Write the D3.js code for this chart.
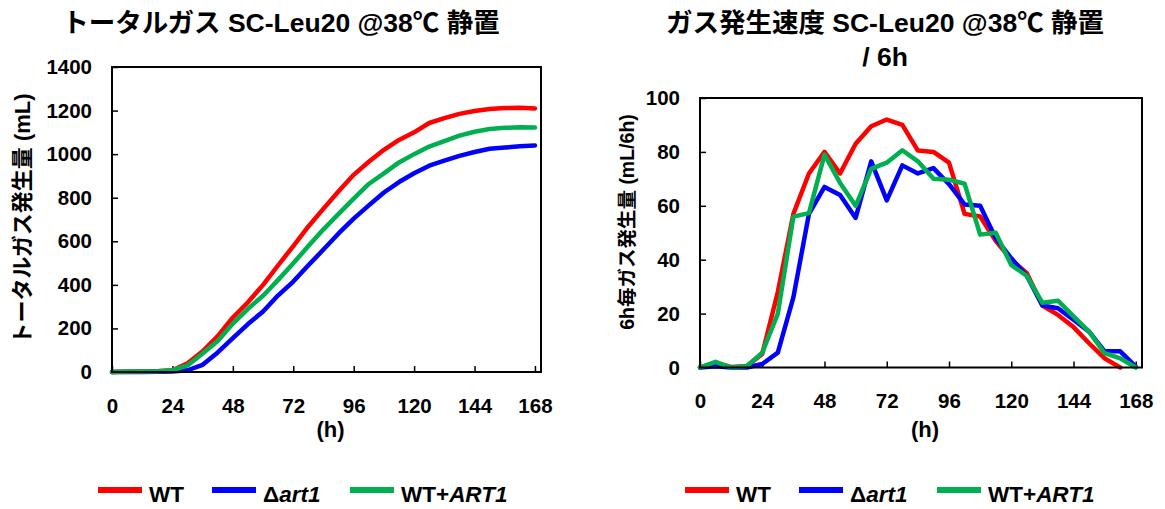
<!DOCTYPE html>
<html>
<head>
<meta charset="utf-8">
<title>ガス発生</title>
<script src="https://d3js.org/d3.v7.min.js"></script>
<style>
    body { margin: 0; background: #fff; }
    svg text {
        font-family: "Liberation Sans", Arial, "Noto Sans CJK JP", sans-serif;
        font-weight: bold;
        fill: #000;
    }
    .frame { fill: none; stroke: #000; stroke-width: 2; }
    .tick line { stroke: #000; stroke-width: 1.5; }
    .series { fill: none; stroke-width: 4.5; stroke-linejoin: round; stroke-linecap: round; }
</style>
</head>
<body>
<svg width="1165" height="509"></svg>
<script>
    // sampling times (h)
    var hours = [0, 6, 12, 18, 24, 30, 36, 42, 48, 54, 60, 66, 72, 78, 84, 90, 96, 102, 108, 114, 120, 126, 132, 138, 144, 150, 156, 162, 168];

    // total gas (mL)
    var totalWT   = [0, 1, 2, 3, 8, 40, 95, 165, 250, 320, 400, 490, 578, 668, 750, 830, 905, 965, 1020, 1065, 1100, 1143, 1165, 1185, 1198, 1207, 1212, 1213, 1210];
    var totalArt1 = [0, 0, 0, 1, 2, 8, 33, 90, 155, 220, 278, 352, 415, 490, 562, 636, 704, 765, 824, 872, 912, 947, 970, 992, 1010, 1025, 1030, 1036, 1040];
    var totalART1 = [0, 2, 2, 3, 8, 30, 85, 142, 222, 290, 350, 423, 499, 578, 655, 726, 796, 863, 912, 962, 1000, 1035, 1060, 1085, 1103, 1115, 1121, 1123, 1122];

    // gas rate (mL/6h)
    var rateWT   = [0, 1.7, 0.2, 0.5, 5, 28, 57, 72, 80, 72, 83, 89.5, 92, 90, 80.5, 80, 76, 57, 56, 47, 40, 35, 23, 19.5, 15, 9, 3.4, 0, null];
    var rateArt1 = [0, 0.5, 0, 0, 1.3, 5.5, 26, 57, 67, 64, 55.5, 76.5, 62, 75, 72, 74, 68, 60.5, 60, 48, 40.5, 34, 23, 22, 17.7, 13.3, 6, 6, 0.3];
    var rateART1 = [0, 2.1, 0, 0.5, 5.5, 20, 56, 57.3, 79, 68.5, 60, 73.7, 76, 80.6, 76.5, 70, 69.7, 68.2, 49.3, 50, 38, 34, 24, 24.8, 19, 13.3, 5.3, 3.4, 0];

    var xTicks = [0, 24, 48, 72, 96, 120, 144, 168];
    var totalTicks = [0, 200, 400, 600, 800, 1000, 1200, 1400];
    var rateTicks = [0, 20, 40, 60, 80, 100];

    var colors = ["#ff0000", "#0000ff", "#00b050"];

    var svg = d3.select("svg");

    function drawChart(c) {
        var x = d3.scaleLinear().domain([0, 170.4]).range([c.left, c.right]);
        var y = d3.scaleLinear().domain(c.yDomain).range([c.bottom, c.top]);

        var g = svg.append("g");

        g.append("g")
            .attr("transform", "translate(0," + c.bottom + ")")
            .call(d3.axisBottom(x).tickValues(xTicks).tickFormat(d3.format("d"))
                .tickSizeInner(-6).tickSizeOuter(0).tickPadding(26))
            .call(function(a) { a.select(".domain").remove(); })
            .selectAll("text").style("font-size", "20.5px");

        g.append("g")
            .attr("transform", "translate(" + c.left + ",0)")
            .call(d3.axisLeft(y).tickValues(c.yTicks).tickFormat(d3.format("d"))
                .tickSizeInner(-6).tickSizeOuter(0).tickPadding(20))
            .call(function(a) { a.select(".domain").remove(); })
            .selectAll("text").style("font-size", "20.5px");

        var line = d3.line()
            .defined(function(d) { return d[1] != null; })
            .x(function(d) { return x(d[0]); })
            .y(function(d) { return y(d[1]); });

        c.series.forEach(function(s, i) {
            g.append("path")
                .attr("class", "series")
                .attr("stroke", colors[i])
                .attr("d", line(hours.map(function(h, k) { return [h, s[k]]; })));
        });

        g.append("rect")
            .attr("class", "frame")
            .attr("x", c.left).attr("y", c.top)
            .attr("width", c.right - c.left).attr("height", c.bottom - c.top);

        c.title.forEach(function(t, i) {
            g.append("text")
                .attr("x", c.titleX).attr("y", c.titleY + i * 34)
                .attr("text-anchor", "middle")
                .style("font-size", "26.5px")
                .text(t);
        });

        g.append("text")
            .attr("x", (c.left + c.right) / 2 + 4).attr("y", 437)
            .attr("text-anchor", "middle")
            .style("font-size", "22px")
            .text("(h)");

        g.append("text")
            .attr("transform", "translate(" + c.yTitleX + "," + c.yTitleY + ") rotate(-90)")
            .attr("text-anchor", "middle")
            .style("font-size", c.yTitleSize + "px")
            .text(c.yTitle);

        // legend
        var names = [["WT", ""], ["\u0394", "art1"], ["WT+", "ART1"]];
        names.forEach(function(n, i) {
            var lx = c.legendX[i];
            g.append("line")
                .attr("x1", lx).attr("x2", lx + 44)
                .attr("y1", 490).attr("y2", 490)
                .attr("stroke", colors[i]).attr("stroke-width", 6);
            var t = g.append("text")
                .attr("x", lx + 51).attr("y", 502)
                .style("font-size", "22.5px");
            t.append("tspan").text(n[0]);
            if (n[1]) t.append("tspan").style("font-style", "italic").text(n[1]);
        });
    }

    drawChart({
        left: 112, right: 541, top: 67, bottom: 372,
        yDomain: [0, 1400], yTicks: totalTicks,
        series: [totalWT, totalArt1, totalART1],
        title: ["トータルガス SC-Leu20 @38℃ 静置"], titleX: 281, titleY: 32,
        yTitle: "トータルガス発生量 (mL)", yTitleX: 30, yTitleY: 219, yTitleSize: 22,
        legendX: [98, 212, 350]
    });

    drawChart({
        left: 700, right: 1142, top: 98, bottom: 367.5,
        yDomain: [0, 100], yTicks: rateTicks,
        series: [rateWT, rateArt1, rateART1],
        title: ["ガス発生速度 SC-Leu20 @38℃ 静置", "/ 6h"], titleX: 885, titleY: 32,
        yTitle: "6h毎ガス発生量 (mL/6h)", yTitleX: 634, yTitleY: 222, yTitleSize: 19.5,
        legendX: [685, 799, 937]
    });
</script>
</body>
</html>
